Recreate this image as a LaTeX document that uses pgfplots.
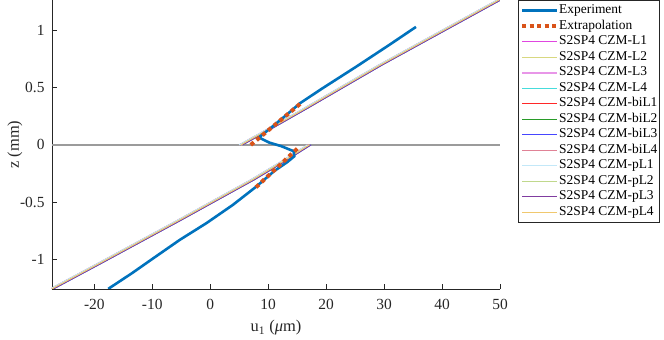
\documentclass[border=0pt]{standalone}
\usepackage{pgfplots}
\usepackage{pgfplotstable}
\pgfplotsset{compat=1.18}
\usepackage{fontspec}
\setmainfont{Liberation Serif}

\definecolor{axgray}{RGB}{38,38,38}
\definecolor{ifgray}{RGB}{155,155,155}
\definecolor{mblue}{RGB}{0,114,189}
\definecolor{morange}{RGB}{217,83,25}
\definecolor{cL1}{RGB}{224,70,224}
\definecolor{cL2}{RGB}{216,216,128}
\definecolor{cL3}{RGB}{232,150,232}
\definecolor{cL4}{RGB}{70,220,220}
\definecolor{cbL1}{RGB}{255,40,40}
\definecolor{cbL2}{RGB}{40,155,40}
\definecolor{cbL3}{RGB}{70,70,255}
\definecolor{cbL4}{RGB}{224,130,150}
\definecolor{cpL1}{RGB}{195,232,248}
\definecolor{cpL2}{RGB}{192,216,140}
\definecolor{cpL3}{RGB}{128,60,160}
\definecolor{cpL4}{RGB}{240,200,110}

\pgfplotstableread{
u z
-17.6 -1.257
-13.5 -1.12
-9.8 -0.989
-5.25 -0.829
-0.65 -0.683
3.9 -0.524
7.95 -0.364
11.0 -0.23
13.3 -0.15
14.5 -0.10
14.4 -0.055
12.2 -0.01
10.2 0.02
8.4 0.065
10.5 0.15
13.0 0.255
15.5 0.364
19.4 0.495
25.2 0.683
30.9 0.873
35.5 1.03
}\experiment

\pgfplotstableread{
u z
7.9 -0.37
15.3 -0.02
nan nan
7.0 0.0
15.8 0.37
}\extrap

\pgfplotstableread{
z ua ub uc
-1.30 -29.2 -28.9 -28.6
-1.032 -19.3 -19.0 -18.7
-0.654 -5.5 -5.2 -4.9
-0.305 7.0 7.3 7.6
-0.15 12.1 12.4 12.7
0 16.8 17.1 17.4
nan nan nan nan
0 5.0 5.3 5.6
0.15 10.3 10.6 10.9
0.305 15.7 16.0 16.3
0.698 29.1 29.4 29.7
1.30 50.8 51.1 51.4
}\models

\begin{document}
\begin{tikzpicture}
\begin{axis}[
  at={(52bp,51bp)}, anchor=south west,
  scale only axis, width=448bp, height=289bp,
  xmin=-27.3, xmax=50, ymin=-1.258, ymax=1.265,
  axis x line*=bottom, axis y line*=left,
  axis line style={color=axgray, line width=0.5bp},
  tick align=inside, major tick length=5bp,
  tick style={color=axgray, line width=0.5bp},
  xtick={-20,-10,0,10,20,30,40,50},
  ytick={-1,-0.5,0,0.5,1},
  /pgf/number format/assume math mode=true,
  ticklabel style={font=\fontsize{15.5}{17}\selectfont, color=axgray},
  xticklabel style={yshift=-7bp},
  yticklabel style={xshift=-4bp},
  xlabel={u\textsubscript{1} ({\itshape μ}m)},
  ylabel={z (mm)},
  label style={font=\fontsize{16.5}{19}\selectfont, color=axgray},
  xlabel style={at={(axis description cs:0.5,-0.135)}, anchor=center},
  ylabel style={at={(axis description cs:-0.0826,0.5)}, anchor=center},
  unbounded coords=jump,
  legend image code/.code={\draw[#1] (0bp,0bp) -- (35bp,0bp);},
  legend cell align=left,
  legend style={at={(rel axis cs:1.04,1.0)}, anchor=north west,
    draw=axgray, line width=0.5bp, fill=white,
    font=\fontsize{13.5}{15}\selectfont,
    inner xsep=2bp, inner ysep=4bp, row sep=2.5bp,
    nodes={inner sep=0pt, text height=9.5bp, text depth=3.5bp}},
]
\addplot[forget plot, color=ifgray, line width=1.5bp] coordinates {(-27.3,0) (50,0)};
% model curves (drawn below the experiment)
\addplot[forget plot, color=cL1, line width=0.8bp] table[x=ua, y=z] {\models};
\addplot[forget plot, color=cL2, line width=0.8bp] table[x=ub, y=z] {\models};
\addplot[forget plot, color=cL3, line width=1.8bp] table[x=ub, y=z] {\models};
\addplot[forget plot, color=cL4, line width=0.8bp] table[x=uc, y=z] {\models};
\addplot[forget plot, color=cbL1, line width=0.8bp] table[x=ua, y=z] {\models};
\addplot[forget plot, color=cbL2, line width=0.8bp] table[x=ub, y=z] {\models};
\addplot[forget plot, color=cbL3, line width=0.8bp] table[x=uc, y=z] {\models};
\addplot[forget plot, color=cbL4, line width=1.3bp] table[x=ub, y=z] {\models};
\addplot[forget plot, color=cpL1, line width=1.3bp] table[x=ua, y=z] {\models};
\addplot[forget plot, color=cpL2, line width=0.8bp] table[x=ub, y=z] {\models};
\addplot[forget plot, color=cpL3, line width=0.8bp] table[x=uc, y=z] {\models};
\addplot[forget plot, color=cpL4, line width=0.8bp] table[x=ub, y=z] {\models};
% experiment and extrapolation
\addplot[color=mblue, line width=2.6bp] table[x=u, y=z] {\experiment};
\addlegendentry{Experiment}
\addplot[color=morange, line width=4bp, dash pattern=on 4bp off 3.5bp] table[x=u, y=z] {\extrap};
\addlegendentry{Extrapolation}
\addlegendimage{color=cL1, line width=0.8bp}
\addlegendentry{S2SP4 CZM-L1}
\addlegendimage{color=cL2, line width=0.8bp}
\addlegendentry{S2SP4 CZM-L2}
\addlegendimage{color=cL3, line width=1.8bp}
\addlegendentry{S2SP4 CZM-L3}
\addlegendimage{color=cL4, line width=0.8bp}
\addlegendentry{S2SP4 CZM-L4}
\addlegendimage{color=cbL1, line width=0.8bp}
\addlegendentry{S2SP4 CZM-biL1}
\addlegendimage{color=cbL2, line width=0.8bp}
\addlegendentry{S2SP4 CZM-biL2}
\addlegendimage{color=cbL3, line width=0.8bp}
\addlegendentry{S2SP4 CZM-biL3}
\addlegendimage{color=cbL4, line width=1.3bp}
\addlegendentry{S2SP4 CZM-biL4}
\addlegendimage{color=cpL1, line width=1.3bp}
\addlegendentry{S2SP4 CZM-pL1}
\addlegendimage{color=cpL2, line width=0.8bp}
\addlegendentry{S2SP4 CZM-pL2}
\addlegendimage{color=cpL3, line width=0.8bp}
\addlegendentry{S2SP4 CZM-pL3}
\addlegendimage{color=cpL4, line width=0.8bp}
\addlegendentry{S2SP4 CZM-pL4}
\end{axis}
\pgfresetboundingbox
\path[use as bounding box] (0,0) rectangle (664bp,340bp);
\end{tikzpicture}
\end{document}
